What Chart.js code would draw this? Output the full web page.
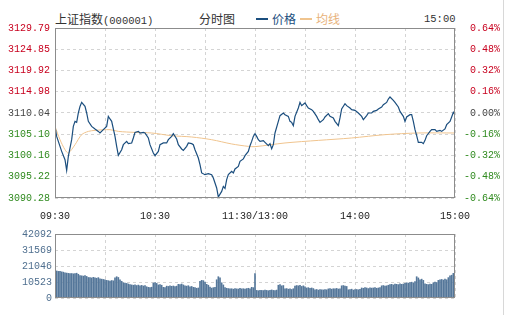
<!DOCTYPE html>
<html>
<head>
<meta charset="utf-8">
<script src="https://cdn.jsdelivr.net/npm/chart.js@4.4.0/dist/chart.umd.min.js"></script>
<style>
  body { margin: 0; background: #fff; width: 507px; height: 315px; overflow: hidden; position: relative; }
  .hd { position: absolute; top: 12px; height: 14px; line-height: 14px; font-size: 12px; color: #333; white-space: nowrap;
        font-family: "Noto Sans CJK SC", "DejaVu Sans", sans-serif; }
  .mono { font-family: "Liberation Mono", monospace; font-size: 10.5px; }
  .dash { position: absolute; top: 18px; width: 12px; height: 2px; }
  #edge { position: absolute; left: 503px; top: 0; width: 1px; height: 315px; background: #d8d8d8; }
  canvas { position: absolute; left: 0; }
</style>
</head>
<body>
<div class="hd" style="left:55px">上证指数<span class="mono">(000001)</span></div>
<div class="hd" style="left:199px">分时图</div>
<div class="dash" style="left:256px;background:#1b4e7e"></div>
<div class="hd" style="left:272px;color:#1b4e7e">价格</div>
<div class="dash" style="left:300px;background:#f0c48e"></div>
<div class="hd" style="left:316px;color:#e8b27a">均线</div>
<div class="hd mono" style="left:424px">15:00</div>
<div id="edge"></div>

<canvas id="priceChart" width="507" height="228" style="top:0"></canvas>
<canvas id="volChart" width="507" height="90" style="top:225px"></canvas>

<script>
// tick labels
const priceTicks = [3129.79, 3124.85, 3119.92, 3114.98, 3110.04, 3105.10, 3100.16, 3095.22, 3090.28];
const pctLabels = ['0.64%', '0.48%', '0.32%', '0.16%', '0.00%', '-0.16%', '-0.32%', '-0.48%', '-0.64%'];
const volTicks = [42092, 31569, 21046, 10523, 0];
const timeLabels = { 0: '09:30', 60: '10:30', 120: '11:30/13:00', 180: '14:00', 240: '15:00' };

// price line (minute offset from 09:30, trading minutes)
const priceMinutes = [0,1,3,4,6,7,8,10,11,12,13,14,15,16,18,19,20,22,24,26,27,29,31,32,33,34,36,37,38,40,41,43,44,46,47,48,50,51,53,54,56,57,59,60,62,63,65,67,68,70,71,73,74,76,77,79,80,82,83,84,86,87,88,90,92,94,95,97,98,100,101,102,103,104,106,107,108,110,111,113,114,116,117,118,119,120,121,122,123,125,126,128,129,130,131,132,134,135,137,138,140,141,142,143,144,146,147,148,150,151,152,154,155,157,158,159,161,162,164,165,167,168,170,171,172,174,175,177,178,180,182,184,185,187,188,190,191,193,194,196,197,199,200,201,203,204,206,207,209,210,211,213,214,215,216,217,218,220,221,222,223,225,226,228,229,231,232,234,235,237,238,239,240];
const prices = [3106.93,3104.60,3102.28,3101.12,3099.19,3096.70,3099.95,3103.83,3106.93,3108.09,3107.86,3110.04,3111.57,3112.50,3111.57,3110.04,3108.09,3106.93,3106.32,3105.76,3105.39,3106.16,3106.93,3109.25,3108.65,3108.09,3104.60,3102.28,3100.19,3101.51,3102.67,3103.44,3102.91,3103.07,3104.23,3105.53,3105.76,3105.39,3105.53,3105.39,3104.23,3102.67,3100.74,3100.12,3101.12,3102.67,3103.07,3103.07,3103.83,3104.60,3105.23,3104.00,3102.67,3101.67,3101.35,3102.28,3103.07,3102.91,3102.67,3101.51,3099.58,3098.02,3096.10,3095.70,3095.93,3095.70,3094.93,3092.61,3090.52,3091.82,3092.98,3092.52,3094.54,3095.70,3096.47,3096.10,3097.03,3097.63,3098.79,3099.35,3100.12,3101.12,3102.44,3103.44,3104.60,3105.23,3104.60,3103.83,3103.44,3103.60,3103.21,3102.44,3102.91,3101.74,3102.67,3105.39,3108.09,3109.41,3110.04,3109.64,3109.25,3108.09,3107.86,3107.09,3109.25,3111.20,3112.50,3111.74,3112.36,3111.74,3111.20,3110.81,3110.41,3109.25,3108.48,3107.86,3108.48,3109.11,3109.88,3109.25,3108.88,3108.09,3107.09,3108.88,3110.97,3112.20,3111.74,3111.20,3110.81,3110.64,3110.04,3109.25,3108.48,3109.41,3110.04,3110.04,3110.41,3110.64,3110.97,3111.43,3111.97,3112.50,3113.29,3113.76,3112.97,3112.50,3111.43,3110.41,3109.25,3108.09,3109.11,3109.64,3109.64,3108.09,3106.16,3104.76,3103.21,3103.21,3102.91,3103.67,3104.76,3105.76,3106.16,3106.16,3105.76,3106.00,3105.76,3106.32,3107.32,3108.09,3109.11,3110.18,3109.64];

// average price line
const avgMinutes = [0,3,6,8,12,16,20,24,33,38,48,58,70,82,94,106,116,120,138,158,178,198,218,240];
const avgPrices = [3106.93,3103.83,3101.50,3100.74,3102.67,3105.00,3105.76,3106.00,3106.16,3105.76,3105.53,3105.39,3104.76,3104.46,3103.83,3102.84,3102.28,3102.21,3103.07,3103.67,3104.23,3105.00,3105.39,3105.39];

// volume per minute (0..240)
const volumes = [
  17600,17800,17500,17600,17200,17000, 16500,16400,16200,16000,16100,15900, 16000,16300,15600,
  14800,14600,14400,14700,14200,13500, 13400,13200,13600,13300,13000,13400, 12600,12400,12200,12000,
  11600,11400,11200,11500,11300, 13200,14000,13500, 12000,11000, 10000,9800,9600,9200,
  8800,8600,8400,8700,8200,8500,8000,8300,7900,8100, 7400,7000,6900,7100, 9800,10100,9600,
  8600,8800,8400, 7000,6800, 7800,7600,8000,7700,7900,7500,7800, 9000,8800,9200,8600,
  8000,7800,8100,7400,7600,7000, 6800,6400,6600, 11000,11600,11400,10400, 9000,8400,7200,
  6500,6800,7000, 12000,14000,13200, 10000,8600, 6800,6400,6200,
  6000,6100,5800,6200,6000,5900,6300,6000,6100,5800,6200,6400,6000, 7000,6800, 16000,
  5000,4800,5100,5000,4900,5200,5000,4800,5100,5300,5000,4900,5200, 8400,8800,8000,8200,
  6000,6200,5800,6000,5600,6100, 7800,8200,8000,8400,7600,8000,7400, 6600,6800,6400,6600,6200,
  5400,5600,5200,5500,5400,5300,5600,5400, 6000,6200,5800,6100,6000,6300,5900,6000,
  8000,8200,7800,7600, 5400,5600,5800,5200,5500,5600,5400,5700,
  6600,6400,6800,6600,6200,6700,6500,6600,6800,6400,6600,6900, 8000,8200,7800,8000,8400,
  8800,9000,8600,9200,9000,8800,9400,9000,9200,9600, 10000,9800,10200,10400,10000,
  10800,14000, 13200,12000,12400,11600, 9400,9000,8800,9200,9000, 10000,10400,10200,
  11600,12000,12200,11800,12400,12000, 13400,14600,15000,16200, 19000
];

const monoFont = { family: '"Liberation Mono", monospace', size: 10 };
const gridColor = '#d4d4d4';

const tickColor = (v) => v > 3110.04 ? '#c8001e' : (v < 3110.04 ? '#2f8a1e' : '#444');

// solid gray frame around the plot area
const frame = {
  id: 'frame',
  afterDraw(chart) {
    const a = chart.chartArea, c = chart.ctx;
    c.save();
    c.strokeStyle = '#8c8c8c';
    c.lineWidth = 1;
    c.strokeRect(Math.round(a.left) + 0.5, Math.round(a.top) + 0.5, Math.round(a.right - a.left) - 1, Math.round(a.bottom - a.top) - 1);
    c.restore();
  }
};

const timeAxis = (showLabels) => ({
  type: 'linear', min: 0, max: 240, offset: false,
  afterBuildTicks: (s) => { s.ticks = [0, 30, 60, 90, 120, 150, 180, 210, 240].map(v => ({ value: v })); },
  afterFit: (s) => { s.height = showLabels ? 30 : 0; },
  grid: { color: gridColor, drawTicks: false, offset: false },
  border: { display: false, dash: [3, 3] },
  ticks: {
    display: showLabels, autoSkip: false, maxRotation: 0, padding: 12,
    color: '#222', font: monoFont,
    callback: (v) => timeLabels[v] || ''
  }
});

new Chart(document.getElementById('priceChart'), {
  type: 'line',
  data: {
    datasets: [{
      label: '价格',
      data: priceMinutes.map((m, i) => ({ x: m, y: prices[i] })),
      borderColor: '#1b4e7e', borderWidth: 1.2, pointRadius: 0, tension: 0
    }, {
      label: '均线',
      data: avgMinutes.map((m, i) => ({ x: m, y: avgPrices[i] })),
      borderColor: '#f0c48e', borderWidth: 1, pointRadius: 0, tension: 0.3
    }]
  },
  options: {
    responsive: false, animation: false,
    layout: { padding: { top: 28, right: 7, left: 0, bottom: 0 } },
    plugins: { legend: { display: false }, tooltip: { enabled: false } },
    scales: {
      x: timeAxis(true),
      y: {
        position: 'left', min: 3090.28, max: 3129.79,
        afterBuildTicks: (s) => { s.ticks = priceTicks.slice().reverse().map(v => ({ value: v })); },
        afterFit: (s) => { s.width = 55; },
        grid: { color: gridColor, drawTicks: false },
        border: { display: false, dash: [3, 3] },
        ticks: { padding: 5, font: monoFont, color: (c) => tickColor(c.tick.value), callback: (v) => v.toFixed(2) }
      },
      y1: {
        position: 'right', min: 3090.28, max: 3129.79,
        afterBuildTicks: (s) => { s.ticks = priceTicks.slice().reverse().map(v => ({ value: v })); },
        afterFit: (s) => { s.width = 45; },
        grid: { display: false, drawTicks: false },
        border: { display: false },
        ticks: { padding: 0, crossAlign: 'far', font: monoFont, color: (c) => tickColor(c.tick.value),
                 callback: (v) => pctLabels[priceTicks.indexOf(v)] }
      }
    }
  },
  plugins: [frame]
});

new Chart(document.getElementById('volChart'), {
  type: 'bar',
  data: {
    datasets: [{
      label: '成交量',
      data: volumes.map((v, i) => ({ x: i, y: v })),
      backgroundColor: '#55779a', barThickness: 1
    }]
  },
  options: {
    responsive: false, animation: false,
    layout: { padding: { top: 3, right: 52, left: 0, bottom: 17 } },
    plugins: { legend: { display: false }, tooltip: { enabled: false } },
    scales: {
      x: timeAxis(false),
      y: {
        min: 0, max: 42092,
        afterBuildTicks: (s) => { s.ticks = volTicks.slice().reverse().map(v => ({ value: v })); },
        afterFit: (s) => { s.width = 55; },
        grid: { color: gridColor, drawTicks: false },
        border: { display: false, dash: [3, 3] },
        ticks: { padding: 3, font: monoFont, color: '#4f6f8f', callback: (v) => String(v) }
      }
    }
  },
  plugins: [frame]
});
</script>
</body>
</html>
